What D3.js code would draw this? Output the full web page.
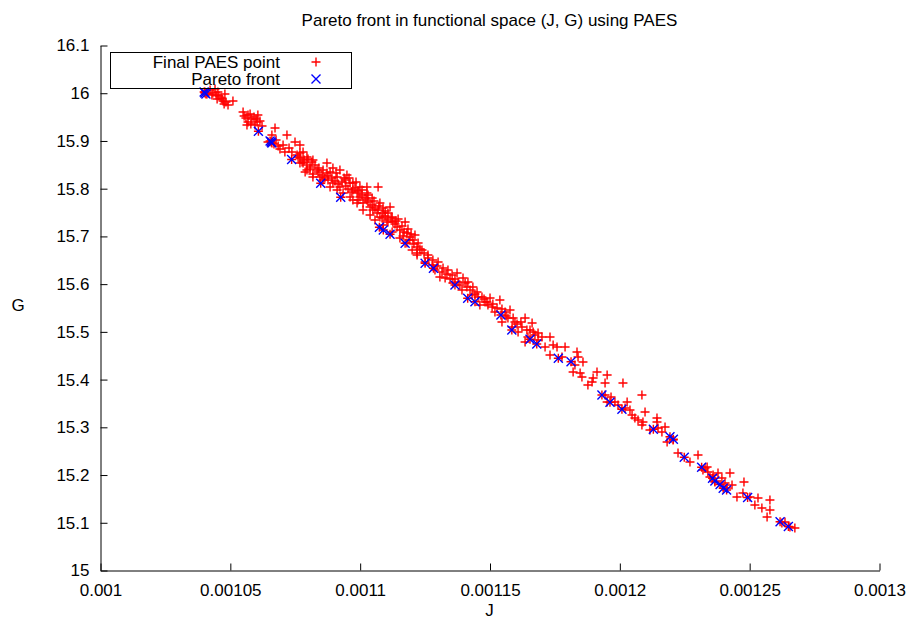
<!DOCTYPE html>
<html>
<head>
<meta charset="utf-8">
<script src="https://cdn.jsdelivr.net/npm/d3@7"></script>
<style>
  html, body { margin: 0; padding: 0; background: #fff; }
  svg { display: block; font-family: "Liberation Sans", Arial, Helvetica, sans-serif; }
</style>
</head>
<body>
<svg id="chart" width="909" height="619"></svg>
<script>
// Axis ticks
const jTicks = [0.001, 0.00105, 0.0011, 0.00115, 0.0012, 0.00125, 0.0013];
const jTickLabels = ["0.001", "0.00105", "0.0011", "0.00115", "0.0012", "0.00125", "0.0013"];
const gTicks = [15, 15.1, 15.2, 15.3, 15.4, 15.5, 15.6, 15.7, 15.8, 15.9, 16, 16.1];
const gTickLabels = ["15", "15.1", "15.2", "15.3", "15.4", "15.5", "15.6", "15.7", "15.8", "15.9", "16", "16.1"];

// Final PAES archive (J, G)
const paesJ = [
  0.0010404, 0.0010412, 0.0010424, 0.0010435, 0.0010443, 0.0010447, 0.0010454, 0.0010458, 0.0010466, 0.0010470,
  0.0010474, 0.0010481, 0.0010485, 0.0010493, 0.0010512, 0.0010478, 0.0010431, 0.0010451,
  0.0010551, 0.0010555, 0.0010562, 0.0010570, 0.0010578, 0.0010585, 0.0010593, 0.0010608, 0.0010570, 0.0010581,
  0.0010597, 0.0010616, 0.0010566, 0.0010605, 0.0010624, 0.0010601,
  0.0010674, 0.0010662, 0.0010720, 0.0010705, 0.0010693, 0.0010712, 0.0010739, 0.0010751, 0.0010770, 0.0010782,
  0.0010678, 0.0010728, 0.0010759, 0.0010647, 0.0010670, 0.0010686,
  0.0010763, 0.0010778, 0.0010797, 0.0010809, 0.0010820, 0.0010790, 0.0010816, 0.0010801, 0.0010770, 0.0010797,
  0.0010820, 0.0010782, 0.0010809, 0.0010836, 0.0010874, 0.0010886, 0.0010951, 0.0010944, 0.0010963, 0.0010897,
  0.0010913, 0.0010924, 0.0010974, 0.0010990, 0.0011001, 0.0011028, 0.0011013, 0.0011040, 0.0011051, 0.0011067,
  0.0011078, 0.0011090, 0.0011105, 0.0011128, 0.0011175, 0.0011144, 0.0011155, 0.0011182, 0.0011194, 0.0011205,
  0.0011221, 0.0011202, 0.0011221, 0.0011071, 0.0011028, 0.0011048, 0.0010994, 0.0010974, 0.0011090, 0.0011109,
  0.0010847, 0.0010859, 0.0010886, 0.0010913, 0.0010936, 0.0010963, 0.0010990, 0.0011013, 0.0011040, 0.0011059,
  0.0011090, 0.0011125, 0.0011155, 0.0011182, 0.0010797, 0.0010820, 0.0010770, 0.0010874, 0.0010897, 0.0010924,
  0.0010878, 0.0011001, 0.0011028, 0.0010974, 0.0011078, 0.0011117, 0.0011125, 0.0011213,
  0.0010840, 0.0010855, 0.0010866, 0.0010878, 0.0010893, 0.0010905, 0.0010917, 0.0010932, 0.0010947, 0.0010955,
  0.0010970, 0.0010982, 0.0010994, 0.0011009, 0.0011021, 0.0011032, 0.0011048, 0.0011059, 0.0011071, 0.0011086,
  0.0011098, 0.0011109, 0.0011136, 0.0011148, 0.0011163, 0.0011171, 0.0011186, 0.0011198,
  0.0010770, 0.0010786, 0.0010828, 0.0010843, 0.0010859, 0.0010909, 0.0010940, 0.0010959, 0.0010986, 0.0011009,
  0.0011032, 0.0011055, 0.0011074, 0.0011098, 0.0011121, 0.0011140, 0.0011167, 0.0011190, 0.0011209,
  0.0011225, 0.0011240, 0.0011221, 0.0011263, 0.0011302, 0.0011290, 0.0011317, 0.0011340, 0.0011356, 0.0011375,
  0.0011329, 0.0011379, 0.0011406, 0.0011394, 0.0011436, 0.0011452, 0.0011471, 0.0011483, 0.0011494, 0.0011510,
  0.0011540, 0.0011521, 0.0011560, 0.0011579, 0.0011571, 0.0011598, 0.0011637, 0.0011625, 0.0011610, 0.0011656,
  0.0011648, 0.0011675, 0.0011687, 0.0011433, 0.0011463, 0.0011417, 0.0011359, 0.0011309, 0.0011279, 0.0011252,
  0.0011548, 0.0011587, 0.0011664, 0.0011637, 0.0011502,
  0.0011232, 0.0011248, 0.0011263, 0.0011282, 0.0011298, 0.0011321, 0.0011336, 0.0011348, 0.0011367, 0.0011386,
  0.0011398, 0.0011413, 0.0011425, 0.0011444, 0.0011456, 0.0011479, 0.0011490, 0.0011513, 0.0011529, 0.0011548,
  0.0011564, 0.0011591, 0.0011606, 0.0011621, 0.0011644, 0.0011668,
  0.0011687, 0.0011702, 0.0011733, 0.0011714, 0.0011745, 0.0011760, 0.0011791, 0.0011733, 0.0011779, 0.0011837,
  0.0011841, 0.0011860, 0.0011829, 0.0011822, 0.0011849, 0.0011856, 0.0011914, 0.0011953, 0.0011899, 0.0011895,
  0.0011879, 0.0011945, 0.0012014, 0.0011945, 0.0011968, 0.0012087, 0.0011953, 0.0011983, 0.0011995, 0.0012030,
  0.0012022, 0.0012041, 0.0012049, 0.0012060, 0.0012072, 0.0012091, 0.0012099, 0.0012087, 0.0012145, 0.0012118,
  0.0012149,
  0.0012145, 0.0012164, 0.0012184, 0.0012207, 0.0012226, 0.0012272, 0.0012303, 0.0012330, 0.0012341, 0.0012361,
  0.0012380, 0.0012395, 0.0012426, 0.0012407, 0.0012434, 0.0012453, 0.0012480, 0.0012476, 0.0012522, 0.0012534,
  0.0012549, 0.0012580, 0.0012580, 0.0012569, 0.0012503, 0.0012626, 0.0012638, 0.0012657, 0.0012676, 0.0012176,
  0.0012349, 0.0012368, 0.0012322, 0.0012338, 0.0012415
];
const paesG = [
  16.0015, 15.9973, 16.0057, 15.9994, 16.0078, 15.9952, 16.0015, 15.9931, 15.9889, 15.9868,
  15.9826, 15.9973, 15.9805, 15.9743, 15.9826, 15.9764, 15.9952, 15.9868,
  15.9596, 15.9512, 15.9470, 15.9533, 15.9554, 15.9449, 15.9491, 15.9533, 15.9386, 15.9344,
  15.9323, 15.9407, 15.9323, 15.9386, 15.9302, 15.9449,
  15.9261, 15.9114, 15.9114, 15.8905, 15.8821, 15.8758, 15.8758, 15.8967, 15.8905, 15.8758,
  15.9009, 15.8842, 15.8695, 15.8967, 15.8926, 15.8884,
  15.8653, 15.8548, 15.8486, 15.8402, 15.8297, 15.8339, 15.8548, 15.8611, 15.8737, 15.8653,
  15.8590, 15.8527, 15.8444, 15.8381, 15.8318, 15.8339, 15.8276, 15.8171, 15.8108, 15.8108,
  15.8234, 15.8025, 15.7962, 15.7899, 15.7815, 15.7752, 15.7689, 15.7606, 15.7543, 15.7480,
  15.7396, 15.7480, 15.7333, 15.7291, 15.7291, 15.7187, 15.7124, 15.7061, 15.6977, 15.6914,
  15.6768, 15.6705, 15.6642, 15.8025, 15.7899, 15.7794, 15.7752, 15.7752, 15.7585, 15.7480,
  15.8234, 15.8171, 15.8025, 15.7962, 15.7899, 15.7815, 15.7689, 15.7543, 15.7438, 15.7333,
  15.7228, 15.7082, 15.6956, 15.6851, 15.8381, 15.8234, 15.8527, 15.8527, 15.8423, 15.8381,
  15.8171, 15.8025, 15.8025, 15.8108, 15.7689, 15.7606, 15.7396, 15.7019,
  15.8339, 15.8276, 15.8213, 15.8255, 15.8213, 15.8150, 15.8087, 15.8129, 15.8046, 15.7983,
  15.7920, 15.8004, 15.7941, 15.7857, 15.7794, 15.7710, 15.7647, 15.7585, 15.7543, 15.7375,
  15.7417, 15.7291, 15.7249, 15.7354, 15.7207, 15.7082, 15.7145, 15.7040,
  15.8632, 15.8590, 15.8486, 15.8423, 15.8381, 15.8318, 15.8213, 15.8213, 15.8129, 15.7962,
  15.7857, 15.7731, 15.7627, 15.7522, 15.7375, 15.7312, 15.6998, 15.6914, 15.6830,
  15.6851, 15.6705, 15.6600, 15.6600, 15.6453, 15.6286, 15.6244, 15.6286, 15.6181, 15.6223,
  15.6118, 15.6034, 15.6013, 15.5867, 15.5929, 15.5825, 15.5720, 15.5615, 15.5552, 15.5510,
  15.5657, 15.5406, 15.5406, 15.5448, 15.5280, 15.5196, 15.5280, 15.5091, 15.4987, 15.5029,
  15.4882, 15.4924, 15.4819, 15.5762, 15.5552, 15.6034, 15.6013, 15.6139, 15.6390, 15.6453,
  15.5196, 15.5091, 15.5175, 15.4777, 15.5699,
  15.6726, 15.6642, 15.6537, 15.6495, 15.6369, 15.6328, 15.6202, 15.6097, 15.6097, 15.5971,
  15.6118, 15.5929, 15.5867, 15.5783, 15.5720, 15.5678, 15.5615, 15.5573, 15.5489, 15.5468,
  15.5322, 15.5280, 15.5154, 15.5196, 15.5029, 15.4987,
  15.4966, 15.4882, 15.4882, 15.4672, 15.4714, 15.4672, 15.4672, 15.4505, 15.4463, 15.4568,
  15.4463, 15.4358, 15.4295, 15.4148, 15.4128, 15.4044, 15.4148, 15.4086, 15.4023, 15.3939,
  15.3876, 15.3918, 15.3918, 15.3667, 15.3625, 15.3667, 15.3520, 15.3520, 15.3457, 15.3520,
  15.3394, 15.3352, 15.3248, 15.3185, 15.3143, 15.3101, 15.3310, 15.3038, 15.3185, 15.2933,
  15.2975,
  15.3101, 15.2891, 15.2682, 15.2724, 15.2451, 15.2263, 15.2410, 15.2137, 15.2053, 15.1990,
  15.2032, 15.1928, 15.2032, 15.1823, 15.1781, 15.1529, 15.1844, 15.1613, 15.1362, 15.1508,
  15.1299, 15.1467, 15.1257, 15.1110, 15.1529, 15.0985, 15.1006, 15.0901, 15.0880, 15.2996,
  15.1949, 15.1844, 15.2095, 15.2158, 15.1718
];

// Non-dominated subset (Pareto front)
const frontJ = [
  0.0010401, 0.0010404, 0.0010408, 0.0010610, 0.0010655, 0.0010659, 0.0010662, 0.0010738, 0.0010850, 0.0010927,
  0.0011076, 0.0011091, 0.0011117, 0.0011175, 0.0011252, 0.0011284, 0.0011367, 0.0011416, 0.0011444, 0.0011544,
  0.0011586, 0.0011656, 0.0011682, 0.0011765, 0.0011814, 0.0011933, 0.0011964, 0.0012010, 0.0012131, 0.0012195,
  0.0012208, 0.0012250, 0.0012317, 0.0012359, 0.0012368, 0.0012388, 0.0012400, 0.0012413, 0.0012494, 0.0012619,
  0.0012651
];
const frontG = [
  16.0015, 15.9994, 15.9973, 15.9192, 15.8988, 15.8967, 15.8946, 15.8601, 15.8102, 15.7809,
  15.7180, 15.7124, 15.7034, 15.6845, 15.6426, 15.6321, 15.5971, 15.5693, 15.5621, 15.5343,
  15.5028, 15.4834, 15.4735, 15.4436, 15.4364, 15.3667, 15.3514, 15.3367, 15.2950, 15.2793,
  15.2738, 15.2361, 15.2152, 15.1921, 15.1865, 15.1791, 15.1712, 15.1676, 15.1519, 15.1012,
  15.0911
];

const seriesNames = ["Final PAES point", "Pareto front"];
const seriesColors = ["#ff0000", "#0000ff"];

(function draw() {
  const svg = d3.select("#chart");
  const W = 909, H = 619;
  const plotLeft = 100, plotRight = 879, plotTop = 45, plotBottom = 570;
  const fontSize = 17;

  svg.append("rect").attr("width", W).attr("height", H).attr("fill", "#fff");

  const x = d3.scaleLinear().domain([0.001, 0.0013]).range([plotLeft, plotRight]);
  const y = d3.scaleLinear().domain([15, 16.1]).range([plotBottom, plotTop]);

  const plusPath = "M-4.5,0H4.5M0,-4.5V4.5";
  const crossPath = "M-4.5,-4.5L4.5,4.5M-4.5,4.5L4.5,-4.5";
  const markWidth = 1.4;

  // Axes: ticks point inward, only left and bottom borders
  const xAxis = d3.axisBottom(x)
    .tickValues(jTicks)
    .tickFormat((d, i) => jTickLabels[i])
    .tickSizeInner(-7).tickSizeOuter(0).tickPadding(13);
  const yAxis = d3.axisLeft(y)
    .tickValues(gTicks)
    .tickFormat((d, i) => gTickLabels[i])
    .tickSizeInner(-7).tickSizeOuter(0).tickPadding(11);

  const gx = svg.append("g").attr("transform", `translate(0.5,${plotBottom + 0.5})`).call(xAxis);
  const gy = svg.append("g").attr("transform", `translate(${plotLeft + 0.5},0.5)`).call(yAxis);
  [gx, gy].forEach(g => {
    g.selectAll("text").attr("font-size", fontSize).attr("fill", "#000")
      .attr("font-family", "Liberation Sans, Arial, sans-serif");
    g.selectAll("line, path").attr("stroke", "#000").attr("stroke-width", 1);
  });

  // Points: every Pareto point is also part of the final archive
  const frontPoints = frontJ.map((j, i) => ({ j, g: frontG[i] }));
  const paesPoints = paesJ.map((j, i) => ({ j, g: paesG[i] })).concat(frontPoints);

  svg.append("g").selectAll("path").data(paesPoints).join("path")
    .attr("d", plusPath)
    .attr("transform", d => `translate(${x(d.j)},${y(d.g)})`)
    .attr("stroke", seriesColors[0]).attr("stroke-width", markWidth).attr("fill", "none");

  svg.append("g").selectAll("path").data(frontPoints).join("path")
    .attr("d", crossPath)
    .attr("transform", d => `translate(${x(d.j)},${y(d.g)})`)
    .attr("stroke", seriesColors[1]).attr("stroke-width", markWidth).attr("fill", "none");

  // Title and axis labels
  svg.append("text").attr("x", (plotLeft + plotRight) / 2).attr("y", 26)
    .attr("text-anchor", "middle").attr("font-size", fontSize)
    .text("Pareto front in functional space (J, G) using PAES");
  svg.append("text").attr("x", (plotLeft + plotRight) / 2).attr("y", 616)
    .attr("text-anchor", "middle").attr("font-size", fontSize).text("J");
  svg.append("text").attr("x", 18).attr("y", 311)
    .attr("text-anchor", "middle").attr("font-size", fontSize).text("G");

  // Legend
  const legend = svg.append("g");
  legend.append("rect").attr("x", 110.5).attr("y", 52.5).attr("width", 241).attr("height", 36)
    .attr("fill", "none").attr("stroke", "#000").attr("stroke-width", 1);
  const legendRows = [62, 79];
  seriesNames.forEach((name, i) => {
    legend.append("text").attr("x", 280).attr("y", legendRows[i]).attr("dy", "0.35em")
      .attr("text-anchor", "end").attr("font-size", fontSize).text(name);
    legend.append("path").attr("d", i === 0 ? plusPath : crossPath)
      .attr("transform", `translate(316,${legendRows[i]})`)
      .attr("stroke", seriesColors[i]).attr("stroke-width", markWidth).attr("fill", "none");
  });
})();
</script>
</body>
</html>
